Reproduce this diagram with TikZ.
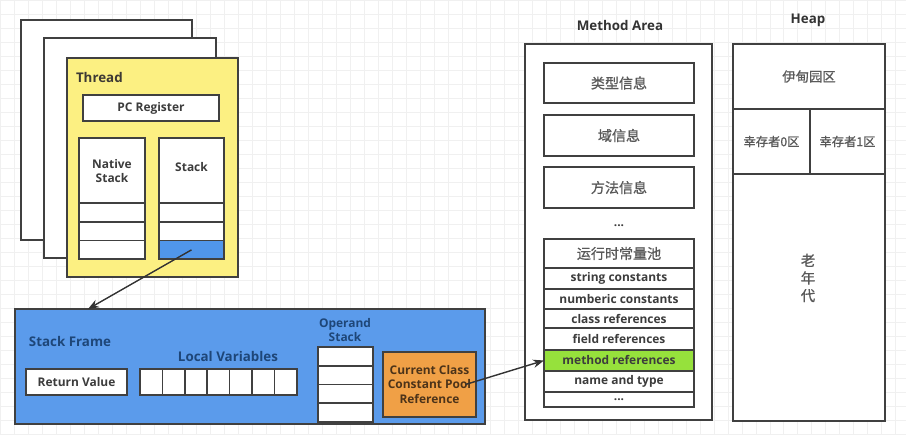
\documentclass[tikz,border=0pt]{standalone}
\usepackage{fontspec}
\usepackage{xcolor}
\usetikzlibrary{positioning,arrows.meta}
\setmainfont{Open Sans}
\newfontfamily\cjk[AutoFakeBold=0.8]{Noto Sans CJK SC}

\definecolor{frameblue}{RGB}{91,155,235}
\definecolor{cellblue}{RGB}{80,150,235}
\definecolor{threadyellow}{RGB}{252,240,130}
\definecolor{poolorange}{RGB}{240,160,70}
\definecolor{mrefgreen}{RGB}{150,225,60}
\definecolor{labelgray}{RGB}{60,60,60}
\definecolor{labelblue}{RGB}{30,70,120}

\begin{document}
\begin{tikzpicture}[x=0.02cm, y=-0.02cm,
        every node/.style={font=\bfseries\fontsize{6.8}{8}\selectfont, text=labelgray, align=center, inner sep=0pt, outer sep=0pt},
        box/.style={draw=black!75, line width=0.9pt, fill=white},
        cell/.style={box, minimum width=#1, minimum height=0.375cm},
        poolrow/.style={box, minimum width=3cm, minimum height=#1},
        title/.style={font=\bfseries\fontsize{7.6}{9}\selectfont, text=black!80},
        zh/.style={font=\cjk\bfseries\fontsize{#1}{10}\selectfont, text=black!65}
    ]
        \useasboundingbox (0,0) rectangle (906,434);
        \draw[black!6, step=0.28cm] (0,0) grid (906,434);

        % thread pages
        \node[box, minimum width=3.42cm, minimum height=4.4cm] (page1) at (106.5,130) {};
        \node[box, minimum width=3.44cm, minimum height=4.4cm] (page2) at (130,148) {};
        \node[box, fill=threadyellow, minimum width=3.42cm, minimum height=4.38cm] (thread) at (152.5,167.5) {};
        \node[title, text=black!70!yellow!40!black, anchor=west] (threadlbl) at (76,77) {Thread};
        \node[box, minimum width=2.72cm, minimum height=0.52cm] (pc) at (151,108) {PC Register};

        \node[box, minimum width=1.32cm, minimum height=1.3cm, anchor=north] (ns0) at (112,138) {};
        \node[above=0.4cm of ns0.south] (nslbl) {Native\\Stack};
        \node[cell=1.32cm, below=0pt of ns0] (ns1) {};
        \node[cell=1.32cm, below=0pt of ns1] (ns2) {};
        \node[cell=1.32cm, below=0pt of ns2] (ns3) {};

        \node[box, minimum width=1.3cm, minimum height=1.3cm, anchor=north] (st0) at (191.5,138) {};
        \node[above=0.62cm of st0.south] (stlbl) {Stack};
        \node[cell=1.3cm, below=0pt of st0] (st1) {};
        \node[cell=1.3cm, below=0pt of st1] (st2) {};
        \node[cell=1.3cm, below=0pt of st2, fill=cellblue] (st3) {};

        % stack frame
        \node[box, fill=frameblue, minimum width=9.4cm, minimum height=2.3cm] (frame) at (250,366.5) {};
        \coordinate (frametop) at (88,309);
        \node[title, text=labelblue, anchor=west] (sflbl) at (29,341) {Stack Frame};
        \node[title, text=labelblue] (lvlbl) at (228,356) {Local Variables};
        \node[box, minimum width=2.02cm, minimum height=0.52cm] (retval) at (76.5,382) {Return Value};
        \foreach \i in {0,...,6}
            \node[box, minimum width=0.449cm, minimum height=0.52cm] (lv\i) at (151.2+22.4*\i,382) {};
        \node[text=labelblue] (oplbl) at (345,330) {Operand\\Stack};
        \foreach \i in {0,...,3}
            \node[cell=1.1cm] (op\i) at (345.5,356.4+18.75*\i) {};
        \node[box, fill=poolorange, text=black!60!brown, minimum width=1.86cm, minimum height=1.3cm] (cpref) at (429.5,384.5) {Current Class\\Constant Pool\\Reference};

        % method area
        \node[title] (malbl) at (620,25) {Method Area};
        \node[box, minimum width=3.74cm, minimum height=7.52cm] (marea) at (618.5,232) {};
        \node[box, zh=8, minimum width=3cm, minimum height=0.8cm] (typeinfo) at (619,83) {类型信息};
        \node[box, zh=8, minimum width=3cm, minimum height=0.82cm] (fieldinfo) at (619,135.5) {域信息};
        \node[box, zh=8, minimum width=3cm, minimum height=0.82cm] (methinfo) at (619,187.5) {方法信息};
        \node (madots) at (619,226) {...};

        \node[poolrow=0.58cm, zh=8, anchor=north] (pool) at (619,239) {运行时常量池};
        \node[poolrow=0.42cm, below=0pt of pool] (strc) {string constants};
        \node[poolrow=0.40cm, below=0pt of strc] (numc) {numberic constants};
        \node[poolrow=0.38cm, below=0pt of numc] (clsref) {class references};
        \node[poolrow=0.44cm, below=0pt of clsref] (fldref) {field references};
        \node[poolrow=0.42cm, below=0pt of fldref, fill=mrefgreen] (mref) {method references};
        \node[poolrow=0.42cm, below=0pt of mref] (nat) {name and type};
        \node[poolrow=0.30cm, below=0pt of nat] (pooldots) {...};

        % heap
        \node[title] (heaplbl) at (808,20) {Heap};
        \node[box, minimum width=3.04cm, minimum height=7.54cm] (heap) at (809,232.5) {};
        \node[box, zh=7.6, minimum width=3.04cm, minimum height=1.3cm] (eden) at (809,76.5) {伊甸园区};
        \node[box, zh=7, minimum width=1.54cm, minimum height=1.3cm] (surv0) at (771.5,141.5) {幸存者0区};
        \node[box, zh=7, minimum width=1.5cm, minimum height=1.3cm] (surv1) at (847.5,141.5) {幸存者1区};
        \node[zh=8.2, align=center] (oldgen) at (808,278) {老\\年\\代};

        \draw[-{Stealth[length=2.2mm]}, line width=0.8pt, black!80] (st3.center) -- (frametop);
        \draw[-{Stealth[length=2.2mm]}, line width=0.8pt, black!80] ([xshift=-6pt]cpref.east) -- (mref.west);
    \end{tikzpicture}
\end{document}
